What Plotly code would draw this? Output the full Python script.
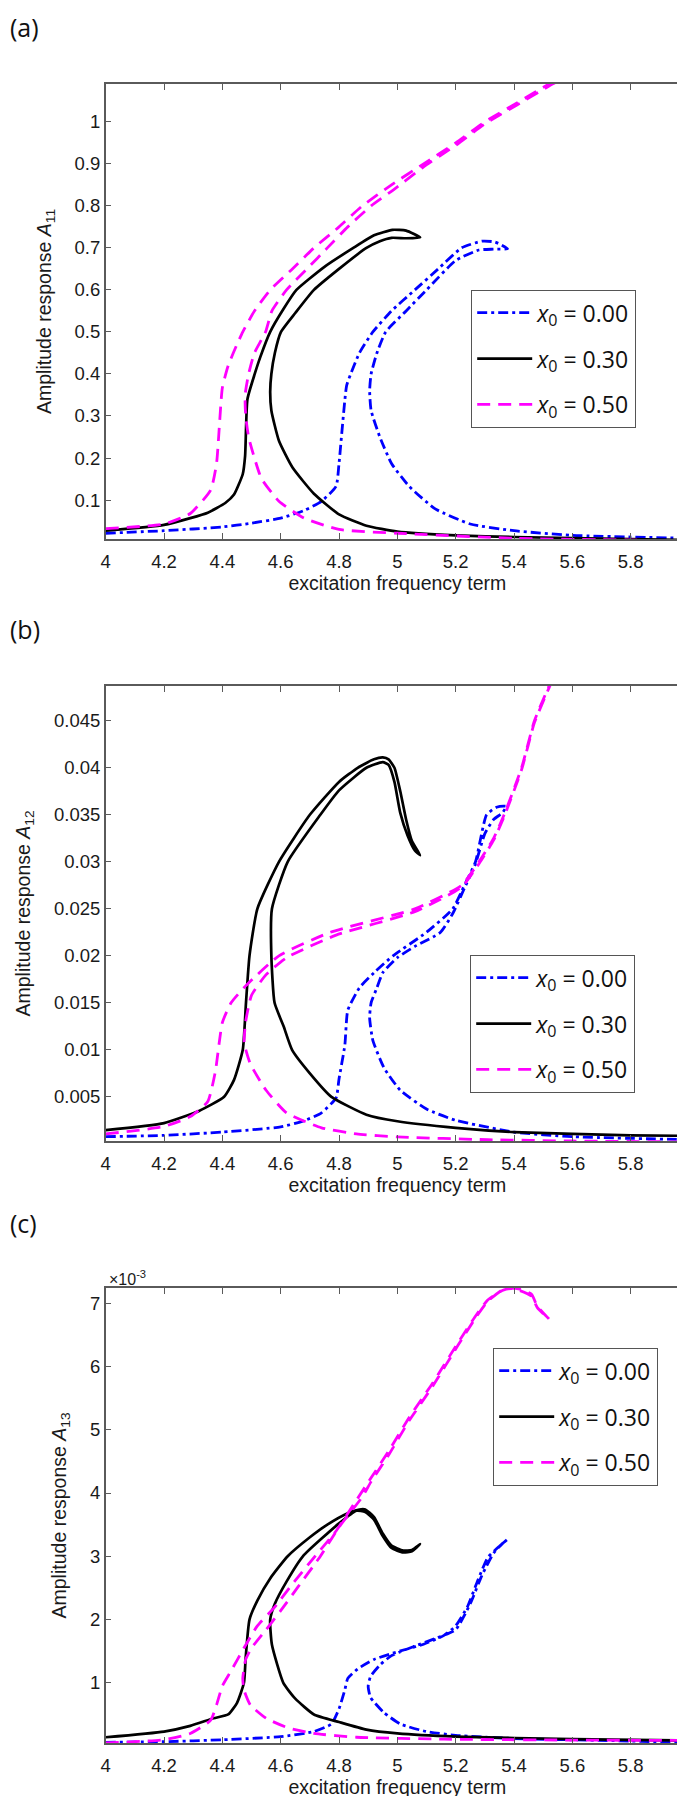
import plotly.graph_objects as go

# ---------------- data ----------------
legend_labels = ["<i>x</i><sub>0</sub> = 0.00", "<i>x</i><sub>0</sub> = 0.30", "<i>x</i><sub>0</sub> = 0.50"]

x_tickvals = [4, 4.2, 4.4, 4.6, 4.8, 5, 5.2, 5.4, 5.6, 5.8, 6]
x_ticktext = ["4", "4.2", "4.4", "4.6", "4.8", "5", "5.2", "5.4", "5.6", "5.8", "6"]

a_tickvals = [0.1, 0.2, 0.3, 0.4, 0.5, 0.6, 0.7, 0.8, 0.9, 1.0]
a_ticktext = ["0.1", "0.2", "0.3", "0.4", "0.5", "0.6", "0.7", "0.8", "0.9", "1"]
b_tickvals = [0.005, 0.01, 0.015, 0.02, 0.025, 0.03, 0.035, 0.04, 0.045]
b_ticktext = ["0.005", "0.01", "0.015", "0.02", "0.025", "0.03", "0.035", "0.04", "0.045"]
c_tickvals = [1, 2, 3, 4, 5, 6, 7]
c_ticktext = ["1", "2", "3", "4", "5", "6", "7"]

# ---- panel (a): A11 ----
a_x00 = [4.0, 4.2, 4.4, 4.5, 4.6, 4.68, 4.74, 4.79, 4.80, 4.826, 4.84, 4.87, 4.916, 4.98, 5.06, 5.14,
         5.22, 5.29, 5.335, 5.378, 5.33, 5.28, 5.2, 5.1, 5.03, 4.96, 4.93, 4.91, 4.905, 4.91, 4.94,
         4.98, 5.04, 5.13, 5.25, 5.4, 5.6, 6.0]
a_y00 = [0.021, 0.027, 0.036, 0.045, 0.057, 0.075, 0.097, 0.133, 0.187, 0.372, 0.40, 0.45, 0.50, 0.55,
         0.60, 0.65, 0.70, 0.716, 0.714, 0.698, 0.697, 0.695, 0.67, 0.60, 0.55, 0.50, 0.45, 0.40, 0.36,
         0.313, 0.25, 0.187, 0.133, 0.079, 0.043, 0.027, 0.016, 0.009]

a_x30 = [4.0, 4.2, 4.29, 4.35, 4.41, 4.44, 4.47, 4.478, 4.486, 4.511, 4.53, 4.564, 4.61, 4.654, 4.75,
         4.849, 4.92, 4.983, 5.03, 5.078, 5.03, 4.98, 4.94, 4.894, 4.80, 4.714, 4.65, 4.601, 4.58,
         4.568, 4.564, 4.568, 4.594, 4.64, 4.714, 4.8, 4.894, 5.0, 5.2, 5.4, 5.8, 6.0]
a_y30 = [0.027, 0.041, 0.057, 0.070, 0.093, 0.113, 0.162, 0.205, 0.34, 0.40, 0.44, 0.50, 0.555, 0.60,
         0.655, 0.70, 0.73, 0.743, 0.741, 0.725, 0.723, 0.724, 0.716, 0.70, 0.65, 0.60, 0.545, 0.50,
         0.45, 0.40, 0.358, 0.313, 0.241, 0.178, 0.115, 0.066, 0.039, 0.025, 0.016, 0.012, 0.007, 0.005]

a_x50 = [4.0, 4.2, 4.29, 4.36, 4.38, 4.40, 4.42, 4.45, 4.47, 4.51, 4.564, 4.64, 4.714, 4.80, 4.88,
         4.98, 5.09, 5.2, 5.30, 5.41, 5.52, 5.58, 5.58, 5.52, 5.41, 5.30, 5.2, 5.09, 4.99, 4.91, 4.83,
         4.76, 4.69, 4.62, 4.57, 4.548, 4.51, 4.49, 4.478, 4.48, 4.49, 4.51, 4.534, 4.594, 4.68, 4.8,
         5.0, 5.4, 6.0]
a_y50 = [0.032, 0.043, 0.068, 0.124, 0.187, 0.367, 0.42, 0.47, 0.50, 0.55, 0.60, 0.65, 0.70, 0.75, 0.80,
         0.85, 0.90, 0.95, 1.0, 1.045, 1.09, 1.115, 1.11, 1.085, 1.04, 0.995, 0.944, 0.893, 0.84, 0.80,
         0.75, 0.70, 0.65, 0.60, 0.55, 0.50, 0.45, 0.40, 0.35, 0.30, 0.25, 0.20, 0.151, 0.097, 0.057,
         0.030, 0.021, 0.009, 0.003]

# ---- panel (b): A12 ----
b_x00 = [4.0, 4.2, 4.4, 4.6, 4.68, 4.74, 4.79, 4.80, 4.82, 4.83, 4.87, 4.92, 4.985, 5.10, 5.19, 5.23,
         5.268, 5.306, 5.34, 5.373, 5.36, 5.33, 5.30, 5.268, 5.23, 5.19, 5.148, 5.06, 5.0, 4.95, 4.93,
         4.91, 4.905, 4.916, 4.954, 5.01, 5.10, 5.2, 5.4, 5.6, 6.0]
b_y00 = [0.00076, 0.0009, 0.00125, 0.0018, 0.00245, 0.0033, 0.0049, 0.0069, 0.0105, 0.0142, 0.0166,
         0.0182, 0.020, 0.0225, 0.025, 0.0275, 0.030, 0.035, 0.0358, 0.0359, 0.0352, 0.0345, 0.033,
         0.0298, 0.0272, 0.0245, 0.0225, 0.021, 0.0198, 0.0182, 0.0166, 0.015, 0.0134, 0.011, 0.0081,
         0.0057, 0.0037, 0.0025, 0.00125, 0.00076, 0.00044]

b_x30 = [4.0, 4.2, 4.32, 4.406, 4.44, 4.47, 4.481, 4.493, 4.52, 4.594, 4.70, 4.80, 4.864, 4.92, 4.95,
         4.97, 4.99, 5.01, 5.03, 5.05, 5.078, 5.06, 5.035, 5.01, 4.99, 4.97, 4.95, 4.894, 4.80, 4.736,
         4.624, 4.57, 4.568, 4.579, 4.61, 4.639, 4.70, 4.774, 4.894, 5.0, 5.2, 5.4, 5.8, 6.0]
b_y30 = [0.00145, 0.0022, 0.0035, 0.005, 0.0068, 0.010, 0.015, 0.020, 0.025, 0.030, 0.035, 0.0385,
         0.040, 0.0409, 0.0411, 0.0409, 0.040, 0.0375, 0.0345, 0.0322, 0.0307, 0.0312, 0.0328, 0.0352,
         0.0385, 0.0403, 0.0406, 0.040, 0.0376, 0.035, 0.030, 0.025, 0.020, 0.015, 0.0125, 0.010,
         0.0075, 0.005, 0.0031, 0.0024, 0.0017, 0.00125, 0.0009, 0.00085]

b_x50 = [4.0, 4.2, 4.29, 4.35, 4.376, 4.40, 4.43, 4.48, 4.594, 4.77, 5.06, 5.22, 5.28, 5.33, 5.366,
         5.426, 5.47, 5.52, 5.55, 5.55, 5.52, 5.47, 5.426, 5.366, 5.33, 5.28, 5.22, 5.06, 4.79, 4.62,
         4.55, 4.50, 4.48, 4.475, 4.496, 4.55, 4.62, 4.74, 4.86, 5.0, 5.31, 5.6, 6.0]
b_y50 = [0.00105, 0.00185, 0.0029, 0.0045, 0.0077, 0.0129, 0.015, 0.0168, 0.020, 0.0225, 0.025,
         0.0275, 0.030, 0.0325, 0.035, 0.040, 0.045, 0.0487, 0.051, 0.0508, 0.0485, 0.0448, 0.0398,
         0.0348, 0.0323, 0.0298, 0.0273, 0.0247, 0.0222, 0.0198, 0.018, 0.0158, 0.013, 0.0107, 0.0085,
         0.0057, 0.0033, 0.0017, 0.00105, 0.00073, 0.00044, 0.0003, 0.0002]

# ---- panel (c): A13, in units of 1e-3 ----
c_x00 = [4.0, 4.2, 4.4, 4.6, 4.714, 4.774, 4.80, 4.82, 4.83, 4.864, 4.92, 5.0, 5.09, 5.16, 5.2, 5.24,
         5.276, 5.31, 5.35, 5.378, 5.36, 5.33, 5.29, 5.25, 5.2, 5.13, 5.06, 4.98, 4.94, 4.908, 4.90,
         4.908, 4.954, 5.01, 5.10, 5.2, 5.4, 5.8, 6.0]
c_y00 = [0.06, 0.07, 0.10, 0.15, 0.23, 0.35, 0.59, 0.89, 1.07, 1.22, 1.37, 1.49, 1.61, 1.75, 1.90, 2.2,
         2.62, 2.98, 3.16, 3.27, 3.2, 3.05, 2.7, 2.25, 1.84, 1.70, 1.58, 1.43, 1.28, 1.10, 0.95, 0.77,
         0.53, 0.35, 0.23, 0.17, 0.12, 0.08, 0.05]

c_x30 = [4.0, 4.2, 4.29, 4.37, 4.42, 4.45, 4.474, 4.48, 4.493, 4.52, 4.564, 4.624, 4.70, 4.76, 4.83,
         4.87, 4.89, 4.92, 4.95, 4.98, 5.02, 5.05, 5.078, 5.05, 5.02, 4.98, 4.95, 4.92, 4.89, 4.86,
         4.80, 4.676, 4.62, 4.58, 4.564, 4.57, 4.609, 4.65, 4.714, 4.8, 4.894, 5.0, 5.2, 5.6, 6.0]
c_y30 = [0.14, 0.23, 0.32, 0.44, 0.5, 0.68, 1.0, 1.4, 2.0, 2.3, 2.65, 3.0, 3.3, 3.5, 3.68, 3.74, 3.74,
         3.62, 3.36, 3.17, 3.09, 3.10, 3.19, 3.08, 3.06, 3.13, 3.32, 3.58, 3.70, 3.72, 3.52, 3.0, 2.6,
         2.25, 2.0, 1.6, 1.0, 0.75, 0.5, 0.38, 0.26, 0.2, 0.15, 0.11, 0.09]

c_x50 = [4.0, 4.2, 4.29, 4.36, 4.38, 4.40, 4.43, 4.474, 4.52, 4.58, 4.64, 4.714, 4.79, 4.85, 4.91, 4.97,
         5.04, 5.12, 5.21, 5.27, 5.31, 5.36, 5.39, 5.42, 5.46, 5.48, 5.52, 5.48, 5.46, 5.42, 5.39, 5.36,
         5.31, 5.27, 5.21, 5.12, 5.04, 4.97, 4.91, 4.88, 4.80, 4.73, 4.66, 4.60, 4.55, 4.50, 4.48,
         4.47, 4.474, 4.496, 4.55, 4.624, 4.714, 4.86, 5.16, 5.6, 6.0]
c_y50 = [0.05, 0.10, 0.20, 0.41, 0.65, 0.95, 1.19, 1.55, 1.90, 2.20, 2.56, 2.98, 3.40, 3.82, 4.24, 4.66,
         5.19, 5.73, 6.39, 6.81, 7.05, 7.20, 7.23, 7.20, 7.11, 6.93, 6.75, 6.95, 7.14, 7.22, 7.24, 7.21,
         7.03, 6.78, 6.35, 5.68, 5.14, 4.6, 4.18, 3.94, 3.46, 2.96, 2.52, 2.14, 1.84, 1.55, 1.37, 1.07,
         0.89, 0.65, 0.44, 0.29, 0.20, 0.14, 0.11, 0.095, 0.09]

# ---------------- styling ----------------
W, H = 685, 1796
x_dom = [97.7 / W, 681 / W]
panels = [
    dict(top=76, bottom=531, yr=[0.0073, 1.09], tv=a_tickvals, tt=a_ticktext, sub="11",
         data=[(a_x00, a_y00), (a_x30, a_y30), (a_x50, a_y50)], leg=(463, 282), lab="(a)", laby=19),
    dict(top=678, bottom=1133, yr=[0.0003, 0.0487], tv=b_tickvals, tt=b_ticktext, sub="12",
         data=[(b_x00, b_y00), (b_x30, b_y30), (b_x50, b_y50)], leg=(462, 947), lab="(b)", laby=621),
    dict(top=1280, bottom=1735, yr=[0.049, 7.24], tv=c_tickvals, tt=c_ticktext, sub="13",
         data=[(c_x00, c_y00), (c_x30, c_y30), (c_x50, c_y50)], leg=(485, 1340), lab="(c)", laby=1215),
]
colors = ["#0000FF", "#000000", "#FF00FF"]
dashes = ["10px,4px,3px,4px", "solid", "13px,8px"]
widths = [2.8, 2.7, 2.8]

AXC = "#5a5a5a"
TXT = "#1a1a1a"
TICKFONT = dict(family="Liberation Sans, Arial, sans-serif", size=18.5, color=TXT)
TITLEFONT = dict(family="Liberation Sans, Arial, sans-serif", size=19.5, color=TXT)

fig = go.Figure()
layout = dict(width=W, height=H, margin=dict(l=0, r=0, t=0, b=0),
              paper_bgcolor="white", plot_bgcolor="white", showlegend=True, annotations=[])

for i, p in enumerate(panels):
    n = "" if i == 0 else str(i + 1)
    legname = "legend" + n
    for k in range(3):
        xs, ys = p["data"][k]
        fig.add_trace(go.Scatter(
            x=xs, y=ys, mode="lines", name=legend_labels[k],
            line=dict(color=colors[k], width=widths[k], dash=dashes[k], shape="spline", smoothing=0.5),
            xaxis="x" + n, yaxis="y" + n, legend=legname, legendgroup=f"g{i}{k}",
            hoverinfo="skip"))
    ydom = [1 - p["bottom"] / H, 1 - p["top"] / H]
    layout["xaxis" + n] = dict(
        domain=x_dom, anchor="y" + n, range=[4, 6], tickvals=x_tickvals, ticktext=x_ticktext,
        ticks="inside", ticklen=6, tickwidth=1.2, tickcolor=AXC, mirror="allticks",
        showline=True, linecolor=AXC, linewidth=1.5, showgrid=False, zeroline=False,
        tickfont=TICKFONT, ticklabelstandoff=5, ticklabeloverflow="allow", automargin=False,
        title=dict(text="excitation frequency term", font=TITLEFONT, standoff=0))
    layout["yaxis" + n] = dict(
        domain=ydom, anchor="x" + n, range=p["yr"], tickvals=p["tv"], ticktext=p["tt"],
        ticks="inside", ticklen=6, tickwidth=1.2, tickcolor=AXC, mirror="allticks",
        showline=True, linecolor=AXC, linewidth=1.5, showgrid=False, zeroline=False,
        tickfont=TICKFONT, ticklabeloverflow="allow", automargin=False,
        title=dict(text="Amplitude response <i>A</i><sub>" + p["sub"] + "</sub>", font=TITLEFONT,
                   standoff=18))
    lx, ly = p["leg"]
    layout[legname] = dict(
        x=lx / W, y=1 - ly / H, xanchor="left", yanchor="top", xref="paper", yref="paper",
        bgcolor="white", bordercolor="#555555", borderwidth=1.2,
        font=dict(family="Open Sans, sans-serif", size=23, color="#111111"),
        tracegroupgap=13, itemwidth=55, traceorder="grouped")
    layout["annotations"].append(dict(
        text=p["lab"], x=0.0, y=1 - p["laby"] / H, xref="paper", yref="paper",
        xanchor="left", yanchor="middle", showarrow=False,
        font=dict(family="Open Sans, sans-serif", size=25, color="#111111")))

layout["annotations"].append(dict(
    text="×10<sup>-3</sup>", x=99 / W, y=1 - 1270 / H, xref="paper", yref="paper",
    xanchor="left", yanchor="middle", showarrow=False,
    font=dict(family="Liberation Sans, Arial, sans-serif", size=16, color=TXT)))

fig.update_layout(**layout)
fig.write_html("out.html")
